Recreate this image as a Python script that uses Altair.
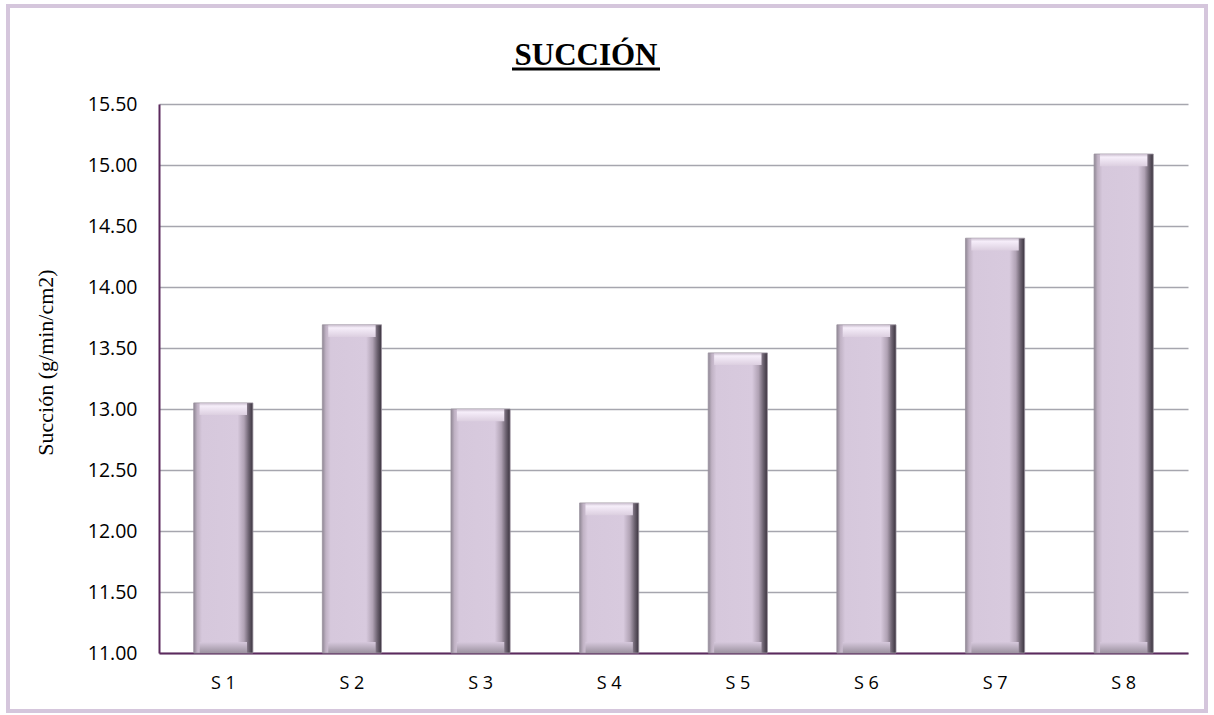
import altair as alt
import pandas as pd

categories = ["S 1", "S 2", "S 3", "S 4", "S 5", "S 6", "S 7", "S 8"]
values = [13.05, 13.69, 13.00, 12.23, 13.46, 13.69, 14.40, 15.09]
y_ticks = [11.0, 11.5, 12.0, 12.5, 13.0, 13.5, 14.0, 14.5, 15.0, 15.5]
title_text = "SUCCIÓN"

df = pd.DataFrame({"cat": categories, "val": values})

Y_MIN, Y_MAX = 11.0, 15.5
AXIS_COLOR = "#5c2a5e"

x_enc = alt.X(
    "cat:N",
    sort=categories,
    scale=alt.Scale(paddingInner=0.54, paddingOuter=0.27),
    axis=alt.Axis(
        title=None, labelAngle=0, ticks=False, tickSize=0, labelPadding=21,
        domainColor=AXIS_COLOR, domainWidth=2, grid=False,
        labelFont="Open Sans", labelFontSize=18, labelColor="#000000",
    ),
)
y_scale = alt.Scale(domain=[Y_MIN, Y_MAX], zero=False, nice=False)
y_axis = alt.Axis(
    title="Succión (g/min/cm2)", values=y_ticks, format=".2f",
    ticks=False, tickSize=0, labelPadding=22,
    domainColor=AXIS_COLOR, domainWidth=2,
    grid=True, gridColor="#a6a6ae", gridWidth=1.5,
    labelFont="Open Sans", labelFontSize=19.5, labelColor="#000000",
    titleFont="Liberation Serif", titleFontSize=22, titleFontWeight="normal",
    titleColor="#000000", titleAngle=270, titleX=-114, titleY=258,
    titleAlign="center", titleBaseline="middle",
)

side_grad = alt.LinearGradient(
    gradient="linear", x1=0, x2=1, y1=0, y2=0,
    stops=[
        alt.GradientStop(offset=0.0, color="#8f8794"),
        alt.GradientStop(offset=0.06, color="#c0b2c4"),
        alt.GradientStop(offset=0.14, color="#d6c8dc"),
        alt.GradientStop(offset=0.74, color="#d8cade"),
        alt.GradientStop(offset=0.85, color="#b0a2b4"),
        alt.GradientStop(offset=0.93, color="#6c6270"),
        alt.GradientStop(offset=1.0, color="#3a333e"),
    ],
)
top_grad = alt.LinearGradient(
    gradient="linear", x1=0, x2=0, y1=0, y2=1,
    stops=[
        alt.GradientStop(offset=0.0, color="#c8bccc"),
        alt.GradientStop(offset=0.25, color="#f6eefa"),
        alt.GradientStop(offset=1.0, color="#dccfe0"),
    ],
)
bot_grad = alt.LinearGradient(
    gradient="linear", x1=0, x2=0, y1=0, y2=1,
    stops=[
        alt.GradientStop(offset=0.0, color="#d6c8dc"),
        alt.GradientStop(offset=1.0, color="#9c92a0"),
    ],
)

base = alt.Chart(df)

bars = base.mark_bar(color=side_grad, stroke="#9a929e", strokeWidth=0.8).encode(
    x=x_enc,
    y=alt.Y("val:Q", scale=y_scale, axis=y_axis),
    y2=alt.datum(Y_MIN),
)

top_band = base.transform_calculate(
    top2="datum.val - 0.1"
).mark_bar(color=top_grad, width=alt.RelativeBandSize(0.8)).encode(
    x=alt.X("cat:N", sort=categories),
    y=alt.Y("val:Q", scale=y_scale),
    y2="top2:Q",
)

bot_band = base.transform_calculate(
    b1="11.09"
).mark_bar(color=bot_grad, width=alt.RelativeBandSize(0.8)).encode(
    x=alt.X("cat:N", sort=categories),
    y=alt.Y("b1:Q", scale=y_scale),
    y2=alt.datum(Y_MIN),
)

one = alt.Data(values=[{"t": title_text}])
title_mark = alt.Chart(one).mark_text(
    font="Liberation Serif", fontSize=31, fontWeight="bold", color="#000000",
    align="center", baseline="alphabetic",
).encode(text="t:N", x=alt.value(427), y=alt.value(-39))
underline = alt.Chart(one).mark_rule(color="#000000", strokeWidth=3).encode(
    x=alt.value(353), x2=alt.value(501), y=alt.value(-35)
)
frame = alt.Chart(one).mark_rect(
    fillOpacity=0, stroke="#d5c6dc", strokeWidth=4
).encode(
    x=alt.value(-151), x2=alt.value(1047), y=alt.value(-98), y2=alt.value(607)
)

chart = alt.layer(bars, top_band, bot_band, title_mark, underline, frame).properties(
    width=1029,
    height=549,
    padding={"left": 159, "top": 104, "right": 26, "bottom": 62},
    autosize=alt.AutoSizeParams(type="none"),
    background="#ffffff",
).configure_view(stroke=None)

chart.save("out.html", embed_options={"renderer": "svg", "actions": False})
